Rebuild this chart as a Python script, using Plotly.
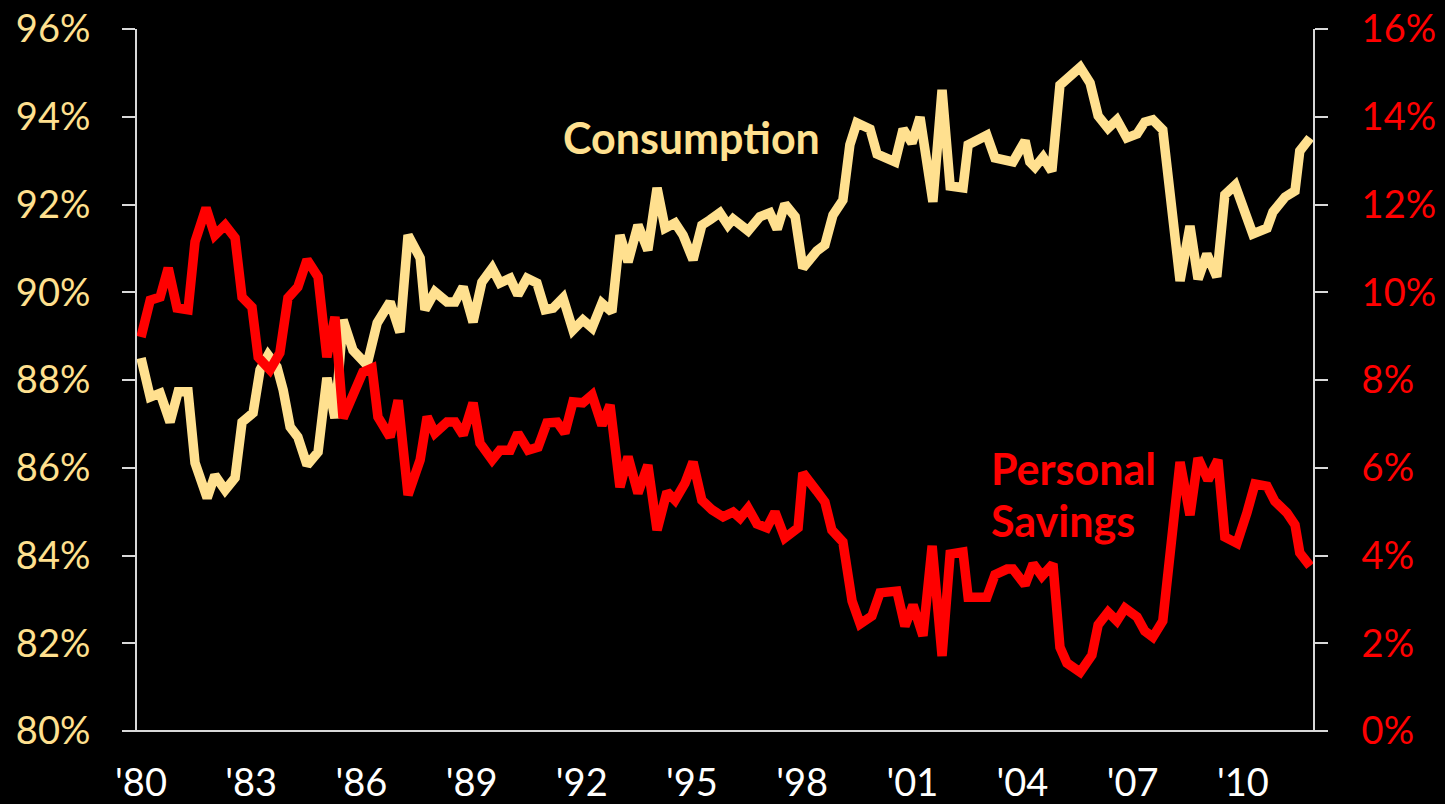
import plotly.graph_objects as go

# Consumption (% of disposable income), left axis
cons_year = [1980.00, 1980.25, 1980.52, 1980.79, 1981.01, 1981.28, 1981.47, 1981.80, 1982.01, 1982.29,
             1982.56, 1982.75, 1983.05, 1983.24, 1983.46, 1983.70, 1983.87, 1984.06, 1984.27, 1984.52,
             1984.82, 1985.06, 1985.28, 1985.50, 1985.77, 1986.15, 1986.43, 1986.78, 1987.05, 1987.27,
             1987.60, 1987.73, 1988.00, 1988.33, 1988.55, 1988.77, 1989.04, 1989.28, 1989.56, 1989.77,
             1990.05, 1990.26, 1990.51, 1990.78, 1991.00, 1991.22, 1991.49, 1991.76, 1992.03, 1992.28,
             1992.55, 1992.82, 1993.04, 1993.26, 1993.53, 1993.80, 1994.05, 1994.27, 1994.54, 1994.76,
             1995.03, 1995.27, 1995.49, 1995.76, 1995.98, 1996.12, 1996.53, 1996.85, 1997.12, 1997.32,
             1997.53, 1997.81, 1998.02, 1998.40, 1998.62, 1998.84, 1999.11, 1999.30, 1999.49, 1999.85,
             2000.04, 2000.53, 2000.75, 2000.99, 2001.21, 2001.56, 2001.81, 2002.03, 2002.38, 2002.52,
             2003.03, 2003.25, 2003.74, 2004.07, 2004.20, 2004.34, 2004.56, 2004.80, 2005.02, 2005.29,
             2005.57, 2005.84, 2006.06, 2006.33, 2006.57, 2006.84, 2007.12, 2007.33, 2007.55, 2007.82,
             2008.07, 2008.29, 2008.56, 2008.78, 2009.02, 2009.29, 2009.51, 2009.79, 2010.27, 2010.66,
             2010.82, 2011.15, 2011.42, 2011.55, 2011.83]
cons_val = [88.50, 87.61, 87.70, 87.04, 87.73, 87.73, 86.11, 85.31, 85.83, 85.49,
            85.77, 87.04, 87.25, 88.23, 88.57, 88.30, 87.77, 86.93, 86.70, 86.06,
            86.36, 88.05, 87.13, 89.37, 88.68, 88.34, 89.30, 89.78, 89.09, 91.30,
            90.78, 89.60, 90.01, 89.78, 89.78, 90.12, 89.32, 90.23, 90.55, 90.21,
            90.32, 89.94, 90.32, 90.21, 89.60, 89.64, 89.87, 89.14, 89.37, 89.19,
            89.75, 89.55, 91.30, 90.69, 91.53, 90.96, 92.38, 91.46, 91.58, 91.30,
            90.74, 91.53, 91.65, 91.81, 91.53, 91.67, 91.40, 91.72, 91.81, 91.44,
            92.01, 91.72, 90.55, 90.94, 91.08, 91.76, 92.10, 93.36, 93.86, 93.72,
            93.15, 92.97, 93.72, 93.40, 93.99, 92.06, 94.61, 92.42, 92.38, 93.36,
            93.58, 93.06, 92.97, 93.45, 92.97, 92.85, 93.08, 92.76, 94.72, 94.95,
            95.13, 94.77, 94.02, 93.74, 93.93, 93.52, 93.61, 93.88, 93.93, 93.70,
            92.03, 90.26, 91.51, 90.30, 90.87, 90.35, 92.22, 92.44, 91.33, 91.46,
            91.83, 92.17, 92.31, 93.22, 93.52]

# Personal savings rate (%), right axis
sav_year = [1980.00, 1980.25, 1980.52, 1980.74, 1980.98, 1981.28, 1981.47, 1981.77, 1982.01, 1982.29,
            1982.56, 1982.75, 1983.02, 1983.19, 1983.51, 1983.78, 1984.00, 1984.27, 1984.52, 1984.82,
            1985.06, 1985.28, 1985.50, 1985.83, 1986.04, 1986.29, 1986.45, 1986.78, 1987.00, 1987.27,
            1987.60, 1987.79, 1988.00, 1988.33, 1988.55, 1988.77, 1989.04, 1989.23, 1989.56, 1989.77,
            1990.05, 1990.26, 1990.54, 1990.81, 1991.05, 1991.33, 1991.54, 1991.76, 1992.03, 1992.28,
            1992.55, 1992.77, 1993.04, 1993.26, 1993.53, 1993.80, 1994.05, 1994.32, 1994.54, 1994.81,
            1995.03, 1995.27, 1995.55, 1995.85, 1996.12, 1996.31, 1996.53, 1996.77, 1997.04, 1997.26,
            1997.53, 1997.89, 1998.02, 1998.40, 1998.62, 1998.81, 1999.11, 1999.36, 1999.58, 1999.90,
            2000.12, 2000.58, 2000.80, 2001.02, 2001.29, 2001.54, 2001.81, 2002.03, 2002.38, 2002.52,
            2003.03, 2003.25, 2003.58, 2003.74, 2004.07, 2004.29, 2004.53, 2004.83, 2005.02, 2005.21,
            2005.57, 2005.89, 2006.06, 2006.33, 2006.57, 2006.79, 2007.12, 2007.33, 2007.55, 2007.82,
            2008.07, 2008.29, 2008.56, 2008.78, 2009.05, 2009.32, 2009.51, 2009.84, 2010.11, 2010.33,
            2010.66, 2010.87, 2011.20, 2011.42, 2011.55, 2011.83]
sav_val = [8.98, 9.82, 9.89, 10.55, 9.64, 9.60, 11.15, 11.92, 11.30, 11.53,
           11.24, 9.89, 9.66, 8.52, 8.23, 8.62, 9.87, 10.12, 10.74, 10.35,
           8.52, 9.44, 7.13, 7.82, 8.18, 8.27, 7.16, 6.70, 7.54, 5.38,
           6.18, 7.16, 6.79, 7.04, 7.04, 6.75, 7.48, 6.56, 6.18, 6.40,
           6.40, 6.79, 6.40, 6.47, 7.02, 7.04, 6.79, 7.50, 7.48, 7.66,
           6.97, 7.43, 5.56, 6.25, 5.42, 6.06, 4.58, 5.45, 5.26, 5.65,
           6.13, 5.26, 5.04, 4.88, 4.99, 4.85, 5.08, 4.72, 4.63, 4.99,
           4.40, 4.63, 5.88, 5.47, 5.22, 4.58, 4.31, 2.96, 2.44, 2.62,
           3.15, 3.19, 2.39, 2.87, 2.17, 4.22, 1.71, 4.03, 4.08, 3.05,
           3.05, 3.56, 3.69, 3.69, 3.33, 3.81, 3.53, 3.81, 1.91, 1.55,
           1.34, 1.73, 2.42, 2.71, 2.51, 2.80, 2.60, 2.28, 2.14, 2.51,
           4.33, 6.13, 4.92, 6.22, 5.72, 6.18, 4.42, 4.28, 4.97, 5.63,
           5.58, 5.24, 4.97, 4.70, 4.06, 3.76]

x_tickvals = [1980, 1983, 1986, 1989, 1992, 1995, 1998, 2001, 2004, 2007, 2010]
x_ticktext = ["'80", "'83", "'86", "'89", "'92", "'95", "'98", "'01", "'04", "'07", "'10"]
left_ticks = [80, 82, 84, 86, 88, 90, 92, 94, 96]
right_ticks = [0, 2, 4, 6, 8, 10, 12, 14, 16]

YELLOW = "#FFE08F"
RED = "#FF0000"
AXIS = "#D9D9D9"
FONT = "Lato"

fig = go.Figure()
fig.add_trace(go.Scatter(x=cons_year, y=cons_val, mode="lines", name="Consumption",
                         line=dict(color=YELLOW, width=9.5), yaxis="y"))
fig.add_trace(go.Scatter(x=sav_year, y=sav_val, mode="lines", name="Personal Savings",
                         line=dict(color=RED, width=9.5), yaxis="y2"))

fig.update_layout(
    width=1445, height=804,
    margin=dict(l=137, r=132, t=29, b=73, autoexpand=False),
    paper_bgcolor="black", plot_bgcolor="black",
    showlegend=False,
    font=dict(family=FONT),
    xaxis=dict(range=[1979.89, 2011.91], tickvals=x_tickvals, ticktext=x_ticktext,
               showgrid=False, zeroline=False, showline=False, ticks="", automargin=False,
               tickfont=dict(color="white", size=38, family=FONT),
               ticklabelstandoff=26),
    yaxis=dict(range=[80, 96], tickvals=left_ticks, ticktext=[f"{v}%" for v in left_ticks],
               showgrid=False, zeroline=False, showline=True, linecolor=AXIS, linewidth=2,
               ticks="outside", ticklen=13, tickwidth=2, tickcolor=AXIS, automargin=False,
               tickfont=dict(color=YELLOW, size=38, family=FONT), ticklabelstandoff=24),
    yaxis2=dict(range=[0, 16], tickvals=right_ticks, ticktext=[f"{v}%" for v in right_ticks],
                overlaying="y", side="right", automargin=False,
                showgrid=False, zeroline=False, showline=True, linecolor=AXIS, linewidth=2,
                ticks="outside", ticklen=13, tickwidth=2, tickcolor=AXIS,
                tickfont=dict(color=RED, size=38, family=FONT), ticklabelstandoff=26),
)

# bottom axis line, extending across the tick marks like the original
fig.add_shape(type="line", xref="paper", yref="paper", x0=-13/1176, x1=1 + 14/1176, y0=0, y1=0,
              line=dict(color=AXIS, width=2))

fig.add_annotation(x=1995.0, y=93.52, xref="x", yref="y", text="<b>Consumption</b>",
                   showarrow=False, font=dict(color=YELLOW, size=43, family=FONT),
                   xanchor="center", yanchor="middle")
fig.add_annotation(x=2003.1, y=16 - (468 - 29) / 43.875, xref="x", yref="y2", text="<b>Personal</b>",
                   showarrow=False, font=dict(color=RED, size=43, family=FONT),
                   xanchor="left", yanchor="middle")
fig.add_annotation(x=2003.1, y=16 - (520 - 29) / 43.875, xref="x", yref="y2", text="<b>Savings</b>",
                   showarrow=False, font=dict(color=RED, size=43, family=FONT),
                   xanchor="left", yanchor="middle")

fig.write_html("out.html",
               config={"displayModeBar": False},
               post_script="document.body.style.margin='0';document.body.style.overflow='hidden';")
